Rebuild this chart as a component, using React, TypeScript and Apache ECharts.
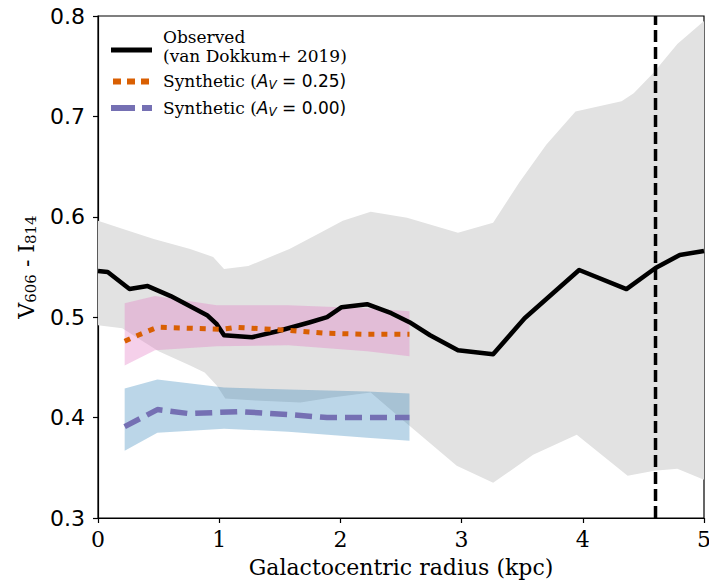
import React, { useEffect, useRef } from "react";
import * as echarts from "echarts";

// Observed profile (van Dokkum+ 2019)
const obsX = [0, 0.08, 0.26, 0.41, 0.6, 0.9, 0.98, 1.04, 1.27, 1.48, 1.75, 1.89, 2.01, 2.22, 2.42, 2.57, 2.74, 2.97, 3.26, 3.52, 3.97, 4.36, 4.6, 4.8, 5.0];
const obsY = [0.546, 0.545, 0.528, 0.531, 0.521, 0.502, 0.493, 0.482, 0.48, 0.486, 0.495, 0.5, 0.51, 0.513, 0.504, 0.495, 0.482, 0.467, 0.463, 0.499, 0.547, 0.528, 0.549, 0.562, 0.566];

// Observed uncertainty band
const obsUpX = [0, 0.2, 0.46, 0.76, 0.95, 1.04, 1.24, 1.58, 1.85, 2.02, 2.25, 2.55, 2.97, 3.26, 3.48, 3.7, 3.94, 4.06, 4.32, 4.42, 4.58, 4.78, 5.0];
const obsUpY = [0.596, 0.588, 0.578, 0.568, 0.56, 0.548, 0.551, 0.568, 0.585, 0.596, 0.605, 0.599, 0.584, 0.594, 0.635, 0.672, 0.705, 0.708, 0.715, 0.723, 0.743, 0.772, 0.795];
const obsLoX = [0, 0.2, 0.5, 0.76, 0.88, 0.98, 1.05, 1.3, 1.67, 1.93, 2.25, 2.56, 2.96, 3.26, 3.59, 3.95, 4.37, 4.59, 4.78, 5.0];
const obsLoY = [0.492, 0.489, 0.466, 0.452, 0.445, 0.432, 0.419, 0.417, 0.415, 0.42, 0.425, 0.393, 0.352, 0.335, 0.363, 0.383, 0.342, 0.347, 0.349, 0.338];

// Synthetic A_V = 0.25
const synAX = [0.22, 0.33, 0.49, 0.75, 1.03, 1.14, 1.57, 1.89, 2.2, 2.57];
const synAY = [0.476, 0.482, 0.49, 0.489, 0.488, 0.49, 0.487, 0.484, 0.483, 0.483];
const synABandX = [0.22, 0.47, 0.98, 1.57, 2.22, 2.57];
const synAUp = [0.514, 0.521, 0.512, 0.512, 0.509, 0.506];
const synALo = [0.452, 0.467, 0.471, 0.472, 0.466, 0.461];

// Synthetic A_V = 0.00
const synBX = [0.22, 0.49, 0.75, 1.17, 1.57, 1.89, 2.57];
const synBY = [0.391, 0.408, 0.404, 0.406, 0.403, 0.4, 0.4];
const synBBandX = [0.22, 0.49, 1.04, 1.57, 2.22, 2.57];
const synBUp = [0.429, 0.438, 0.43, 0.428, 0.426, 0.424];
const synBLo = [0.367, 0.385, 0.389, 0.386, 0.38, 0.377];

// Vertical reference radius
const refRadius = 4.6;

const xTicks = [0, 1, 2, 3, 4, 5];
const yTicks = [0.3, 0.4, 0.5, 0.6, 0.7, 0.8];

const SERIF = "'DejaVu Serif', serif";
const SANS = "'DejaVu Sans', sans-serif";

function pairs(xs: number[], ys: number[]) {
  return xs.map((x, i) => [x, ys[i]]);
}

function bandSeries(xu: number[], yu: number[], xl: number[], yl: number[], fill: string, z: number) {
  return {
    type: "custom",
    silent: true,
    z,
    data: [[xu[0], yu[0]]],
    renderItem: (_params: any, api: any) => {
      const pts: number[][] = [];
      for (let i = 0; i < xu.length; i++) pts.push(api.coord([xu[i], yu[i]]));
      for (let i = xl.length - 1; i >= 0; i--) pts.push(api.coord([xl[i], yl[i]]));
      return { type: "polygon", shape: { points: pts }, style: { fill } };
    },
  };
}

export default function App() {
  const ref = useRef<HTMLDivElement>(null);
  useEffect(() => {
    document.body.style.margin = "0";
    const chart = echarts.init(ref.current!, null, { renderer: "svg" });
    const subRich = {
      t: { fontFamily: SERIF, fontSize: 17, color: "#000", lineHeight: 20 },
      m: { fontFamily: SANS, fontSize: 17, color: "#000", lineHeight: 20 },
      i: { fontFamily: SANS, fontSize: 17, fontStyle: "italic", color: "#000", lineHeight: 20 },
      s: { fontFamily: SANS, fontSize: 12, fontStyle: "italic", color: "#000", lineHeight: 10, verticalAlign: "bottom" },
    };
    chart.setOption({
      animation: false,
      backgroundColor: "#fff",
      grid: { left: 98, top: 16, right: 5, bottom: 65, show: true, borderColor: "#000", borderWidth: 1.2, backgroundColor: "transparent", outerBoundsMode: "none" },
      xAxis: {
        type: "value",
        min: xTicks[0],
        max: xTicks[xTicks.length - 1],
        interval: 1,
        name: "Galactocentric radius (kpc)",
        nameLocation: "middle",
        nameGap: 38,
        nameTextStyle: { fontFamily: SERIF, fontSize: 22, color: "#000" },
        axisLine: { lineStyle: { color: "#000", width: 1.2 } },
        axisTick: { length: 5, lineStyle: { color: "#000", width: 1.2 } },
        axisLabel: { fontFamily: SERIF, fontSize: 22, color: "#000", margin: 10 },
        splitLine: { show: false },
      },
      yAxis: {
        type: "value",
        min: yTicks[0],
        max: yTicks[yTicks.length - 1],
        interval: 0.1,
        name: "{v|V}{s|606}{v| - I}{s|814}",
        nameLocation: "middle",
        nameGap: 60,
        nameRotate: 90,
        nameTextStyle: {
          rich: {
            v: { fontFamily: SERIF, fontSize: 22, color: "#000", lineHeight: 24 },
            s: { fontFamily: SERIF, fontSize: 15, color: "#000", lineHeight: 10, verticalAlign: "bottom" },
          },
        },
        axisLine: { lineStyle: { color: "#000", width: 1.2 } },
        axisTick: { length: 5, lineStyle: { color: "#000", width: 1.2 } },
        axisLabel: { fontFamily: SANS, fontSize: 22, color: "#000", margin: 13, formatter: (v: number) => v.toFixed(1) },
        splitLine: { show: false },
      },
      series: [
        bandSeries(obsUpX, obsUpY, obsLoX, obsLoY, "#e2e2e2", 1),
        bandSeries(synABandX, synAUp, synABandX, synALo, "rgba(227,119,194,0.35)", 2),
        bandSeries(synBBandX, synBUp, synBBandX, synBLo, "rgba(31,119,180,0.3)", 2),
        {
          type: "line",
          name: "Observed",
          data: pairs(obsX, obsY),
          showSymbol: false,
          z: 3,
          lineStyle: { color: "#000", width: 4.5, join: "round" },
        },
        {
          type: "line",
          name: "Synthetic 0.25",
          data: pairs(synAX, synAY),
          showSymbol: false,
          z: 4,
          lineStyle: { color: "#d95f02", width: 5, type: [6, 7], cap: "butt" },
        },
        {
          type: "line",
          name: "Synthetic 0.00",
          data: pairs(synBX, synBY),
          showSymbol: false,
          z: 4,
          lineStyle: { color: "#7570b3", width: 5.5, type: [17, 8], cap: "butt" },
        },
        {
          type: "line",
          name: "limit",
          data: [[refRadius, yTicks[0]], [refRadius, yTicks[yTicks.length - 1]]],
          showSymbol: false,
          z: 5,
          lineStyle: { color: "#000", width: 3.5, type: [12, 5] },
        },
      ],
      graphic: [
        { type: "line", shape: { x1: 111, y1: 50, x2: 152, y2: 50 }, style: { stroke: "#000", lineWidth: 5 }, z: 10 },
        { type: "line", shape: { x1: 113, y1: 81.5, x2: 152, y2: 81.5 }, style: { stroke: "#d95f02", lineWidth: 6, lineDash: [8, 6] }, z: 10 },
        { type: "line", shape: { x1: 111, y1: 108, x2: 152, y2: 108 }, style: { stroke: "#7570b3", lineWidth: 6, lineDash: [24, 7] }, z: 10 },
        {
          type: "text", x: 163, y: 37, z: 10,
          style: { text: "Observed", font: `17px ${SERIF}`, fill: "#000", verticalAlign: "middle" },
        },
        {
          type: "text", x: 163, y: 56, z: 10,
          style: { text: "(van Dokkum+ 2019)", font: `17px ${SERIF}`, fill: "#000", verticalAlign: "middle" },
        },
        {
          type: "text", x: 163, y: 81, z: 10,
          style: { text: "{t|Synthetic (}{i|A}{s|V}{m| = 0.25)}", rich: subRich, verticalAlign: "middle" },
        },
        {
          type: "text", x: 163, y: 108, z: 10,
          style: { text: "{t|Synthetic (}{i|A}{s|V}{m| = 0.00)}", rich: subRich, verticalAlign: "middle" },
        },
      ],
    });
    return () => chart.dispose();
  }, []);
  return <div ref={ref} style={{ width: 709, height: 583 }} />;
}
